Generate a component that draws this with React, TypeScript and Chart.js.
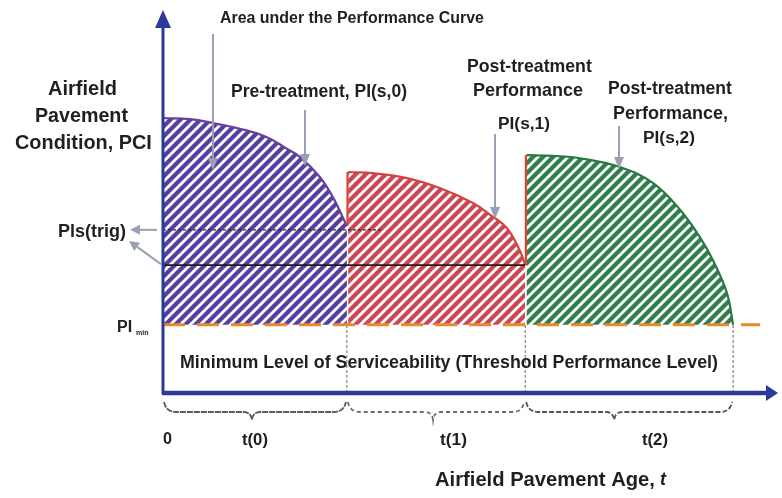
import React, { useEffect, useRef } from "react";
import { Chart, registerables } from "chart.js";

Chart.register(...registerables);

// Performance curves (x = pavement age units, y = PCI units)
const preX = [0, 4.4, 8.1, 12.5, 16.9, 20.0, 22.3, 25.5, 27.6, 29.9];
const preY = [71.8, 71.5, 70.5, 69.0, 66.8, 63.9, 61.6, 56.4, 51.2, 43.6];
const post1X = [30.1, 34.1, 39.7, 45.0, 50.4, 53.2, 55.9, 58.0, 58.9];
const post1Y = [57.7, 57.4, 56.1, 53.5, 49.6, 46.5, 43.1, 37.3, 33.4];
const post2X = [59.1, 63.5, 67.8, 74.3, 79.7, 84.1, 87.3, 89.4, 91.7, 92.7];
const post2Y = [62.1, 61.9, 61.3, 59.0, 54.8, 47.8, 40.7, 34.7, 26.1, 17.8];

// Reference levels
const PI_MIN = 17.8;
const PI_TRIG = 42.6;
const PI_TRIGGER_LINE = 33.4;
const PI_TRIG_END = 35.8;
const PI_MIN_END = 97.1;

// Treatment boundaries (phase ends)
const phaseBounds = [0, 29.9, 58.9, 92.7];
const phaseLabels = ["t(0)", "t(1)", "t(2)"];
const originLabel = "0";

const pts = (xs: number[], ys: number[]) => xs.map((x, i) => ({ x, y: ys[i] }));

function hatch(color: string): CanvasPattern | string {
  const c = document.createElement("canvas");
  c.width = 10;
  c.height = 10;
  const g = c.getContext("2d");
  if (!g) return color;
  g.fillStyle = "#ffffff";
  g.fillRect(0, 0, 10, 10);
  g.strokeStyle = color;
  g.lineWidth = 4.2;
  for (const k of [-1, 0, 1]) {
    g.beginPath();
    g.moveTo(k * 10 - 2, 12);
    g.lineTo(k * 10 + 12, -2);
    g.stroke();
  }
  return g.createPattern(c, "repeat") || color;
}

function arrow(
  ctx: CanvasRenderingContext2D,
  x1: number, y1: number, x2: number, y2: number,
  color: string, width: number, headLen: number, headW: number
) {
  const ang = Math.atan2(y2 - y1, x2 - x1);
  const bx = x2 - Math.cos(ang) * headLen;
  const by = y2 - Math.sin(ang) * headLen;
  ctx.save();
  ctx.strokeStyle = color;
  ctx.fillStyle = color;
  ctx.lineWidth = width;
  ctx.setLineDash([]);
  ctx.beginPath();
  ctx.moveTo(x1, y1);
  ctx.lineTo(bx, by);
  ctx.stroke();
  ctx.beginPath();
  ctx.moveTo(x2, y2);
  ctx.lineTo(bx + Math.sin(ang) * headW, by - Math.cos(ang) * headW);
  ctx.lineTo(bx - Math.sin(ang) * headW, by + Math.cos(ang) * headW);
  ctx.closePath();
  ctx.fill();
  ctx.restore();
}

function brace(ctx: CanvasRenderingContext2D, x1: number, x2: number, top: number, midX: number) {
  const h = 10;
  const cusp = 8;
  ctx.beginPath();
  ctx.moveTo(x1, top);
  ctx.quadraticCurveTo(x1 + 2, top + h, x1 + 12, top + h);
  ctx.lineTo(midX - 8, top + h);
  ctx.quadraticCurveTo(midX - 1, top + h, midX, top + h + cusp);
  ctx.quadraticCurveTo(midX + 1, top + h, midX + 8, top + h);
  ctx.lineTo(x2 - 12, top + h);
  ctx.quadraticCurveTo(x2 - 2, top + h, x2, top);
  ctx.stroke();
}

const FONT = '"Liberation Sans", Arial, sans-serif';

const decor = {
  id: "decor",
  afterDatasetsDraw(chart: any) {
    const ctx: CanvasRenderingContext2D = chart.ctx;
    const xs = chart.scales.x;
    const ys = chart.scales.y;
    const x0 = xs.getPixelForValue(0);
    const y0 = ys.getPixelForValue(0);
    const axisBlue = "#2b3a9a";

    // axes
    ctx.save();
    ctx.strokeStyle = axisBlue;
    ctx.lineWidth = 3;
    ctx.beginPath();
    ctx.moveTo(x0, y0 + 1);
    ctx.lineTo(x0, ys.getPixelForValue(100) + 16);
    ctx.stroke();
    ctx.lineWidth = 4.5;
    ctx.beginPath();
    ctx.moveTo(x0 - 1, y0);
    ctx.lineTo(xs.getPixelForValue(100) - 10, y0);
    ctx.stroke();
    ctx.fillStyle = axisBlue;
    const topY = ys.getPixelForValue(100);
    ctx.beginPath();
    ctx.moveTo(x0, topY);
    ctx.lineTo(x0 - 8, topY + 18);
    ctx.lineTo(x0 + 8, topY + 18);
    ctx.closePath();
    ctx.fill();
    const rx = xs.getPixelForValue(100);
    ctx.beginPath();
    ctx.moveTo(rx, y0);
    ctx.lineTo(rx - 12, y0 - 8);
    ctx.lineTo(rx - 12, y0 + 8);
    ctx.closePath();
    ctx.fill();
    ctx.restore();

    // braces under the age axis
    ctx.save();
    const braceStyles = [
      { c: "#4f5f50", d: [6, 1] },
      { c: "#6a6a86", d: [4, 3] },
      { c: "#4f5a52", d: [5, 2] },
    ];
    const cuspOffsets = [-3, -3, -15];
    for (let i = 0; i < 3; i++) {
      const a = xs.getPixelForValue(phaseBounds[i]);
      const b = xs.getPixelForValue(phaseBounds[i + 1]);
      ctx.strokeStyle = braceStyles[i].c;
      ctx.lineWidth = 1.8;
      ctx.setLineDash(braceStyles[i].d);
      brace(ctx, a + 1, b - 1, y0 + 9, (a + b) / 2 + cuspOffsets[i]);
    }
    ctx.restore();

    // annotation arrows
    const grey = "#9aa0b4";
    arrow(ctx, 213, 34, 213, 170, grey, 2, 12, 5);
    arrow(ctx, 305, 110, 305, 166, grey, 2, 12, 5);
    arrow(ctx, 495, 134, 495, 219, grey, 2, 12, 5);
    arrow(ctx, 619, 126, 619, 169, grey, 2, 12, 5);
    arrow(ctx, 157, ys.getPixelForValue(PI_TRIG), 130, ys.getPixelForValue(PI_TRIG), grey, 2, 10, 5);
    arrow(ctx, 161, ys.getPixelForValue(PI_TRIGGER_LINE) - 1, 129, 241, grey, 2, 10, 5);

    // texts fitted to their spans
    ctx.save();
    ctx.fillStyle = "#1f1f1f";
    ctx.textBaseline = "middle";
    ctx.textAlign = "left";
    const fit = (s: string, left: number, right: number, y: number, style = "bold") => {
      ctx.font = `${style} 20px ${FONT}`;
      const w = ctx.measureText(s).width;
      const size = (20 * (right - left)) / w;
      ctx.font = `${style} ${size.toFixed(2)}px ${FONT}`;
      ctx.fillText(s, left, y);
    };
    fit("Area under the Performance Curve", 220, 484, 19);
    fit("Pre-treatment, PI(s,0)", 231, 407, 92);
    fit("Airfield", 48, 117, 89);
    fit("Pavement", 35, 128, 117);
    fit("Condition, PCI", 15, 152, 144);
    fit("Pls(trig)", 58, 126, ys.getPixelForValue(PI_TRIG) + 2);
    ctx.font = `bold 16px ${FONT}`;
    ctx.fillText("PI", 117, ys.getPixelForValue(PI_MIN) + 3);
    ctx.font = `bold 7px ${FONT}`;
    ctx.fillText("min", 136, ys.getPixelForValue(PI_MIN) + 8);
    fit("Minimum Level of Serviceability (Threshold Performance Level)", 180, 718, 363);
    fit("Post-treatment", 467, 592, 67);
    fit("Performance", 473, 583, 91);
    fit("PI(s,1)", 498, 550, 124);
    fit("Post-treatment", 608, 732, 89);
    fit("Performance,", 613, 728, 114);
    fit("PI(s,2)", 643, 695, 138);
    fit(originLabel, 163, 172, 440);
    const labelSpans = [[242, 268], [440, 467], [642, 668]];
    phaseLabels.forEach((l, i) => fit(l, labelSpans[i][0], labelSpans[i][1], 440));
    fit("Airfield Pavement Age,", 435, 655, 480);
    ctx.font = `italic bold 18px ${FONT}`;
    ctx.fillText("t", 660, 480);
    ctx.restore();
  },
};

export default function App() {
  const ref = useRef<HTMLCanvasElement | null>(null);
  useEffect(() => {
    if (!ref.current) return;
    const line = (data: any[], color: string, width: number, dash: number[] = [], order = 1) => ({
      data,
      borderColor: color,
      borderWidth: width,
      borderDash: dash,
      pointRadius: 0,
      tension: 0,
      fill: false,
      order,
    });
    const chart = new Chart(ref.current, {
      type: "line",
      data: {
        datasets: [
          // reference lines
          line([{ x: 0, y: PI_MIN }, { x: PI_MIN_END, y: PI_MIN }], "#e98a2c", 3, [22, 12], 1),
          line([{ x: 0, y: PI_TRIG }, { x: PI_TRIG_END, y: PI_TRIG }], "#2a2a2a", 1.2, [3, 2], 1),
          line([{ x: 0, y: PI_TRIGGER_LINE }, { x: phaseBounds[2], y: PI_TRIGGER_LINE }], "#1e1e1e", 1.6, [], 1),
          ...phaseBounds.slice(1).map((b) =>
            line([{ x: b, y: 0 }, { x: b, y: PI_MIN }], "#6a6a6a", 1, [3, 2], 1)
          ),
          line([{ x: post1X[0] - 0.1, y: preY[preY.length - 1] }, { x: post1X[0] - 0.1, y: post1Y[0] }], "#e0402e", 2.2, [], 1),
          line([{ x: post2X[0] - 0.1, y: post1Y[post1Y.length - 1] }, { x: post2X[0] - 0.1, y: post2Y[0] }], "#e0402e", 2.2, [], 1),
          // performance areas
          {
            data: pts(preX, preY),
            borderColor: "#6a3f9e",
            borderWidth: 2.2,
            backgroundColor: hatch("#5540a2"),
            fill: { value: PI_MIN },
            pointRadius: 0,
            tension: 0.4,
            order: 5,
          },
          {
            data: pts(post1X, post1Y),
            borderColor: "#d4443e",
            borderWidth: 2.2,
            backgroundColor: hatch("#cc4755"),
            fill: { value: PI_MIN },
            pointRadius: 0,
            tension: 0.4,
            order: 5,
          },
          {
            data: pts(post2X, post2Y),
            borderColor: "#2a7746",
            borderWidth: 2.2,
            backgroundColor: hatch("#2f7e4c"),
            fill: { value: PI_MIN },
            pointRadius: 0,
            tension: 0.4,
            order: 5,
          },
        ],
      },
      options: {
        responsive: false,
        maintainAspectRatio: false,
        animation: false,
        layout: { padding: { left: 163, right: 4, top: 10, bottom: 105 } },
        scales: {
          x: { type: "linear", min: 0, max: 100, display: false },
          y: { type: "linear", min: 0, max: 100, display: false },
        },
        plugins: { legend: { display: false }, tooltip: { enabled: false } },
      },
      plugins: [decor],
    } as any);
    return () => chart.destroy();
  }, []);
  return (
    <div style={{ position: "absolute", left: 0, top: 0, width: 782, height: 498, background: "#fff" }}>
      <canvas ref={ref} width={782} height={498} style={{ display: "block" }} />
    </div>
  );
}
